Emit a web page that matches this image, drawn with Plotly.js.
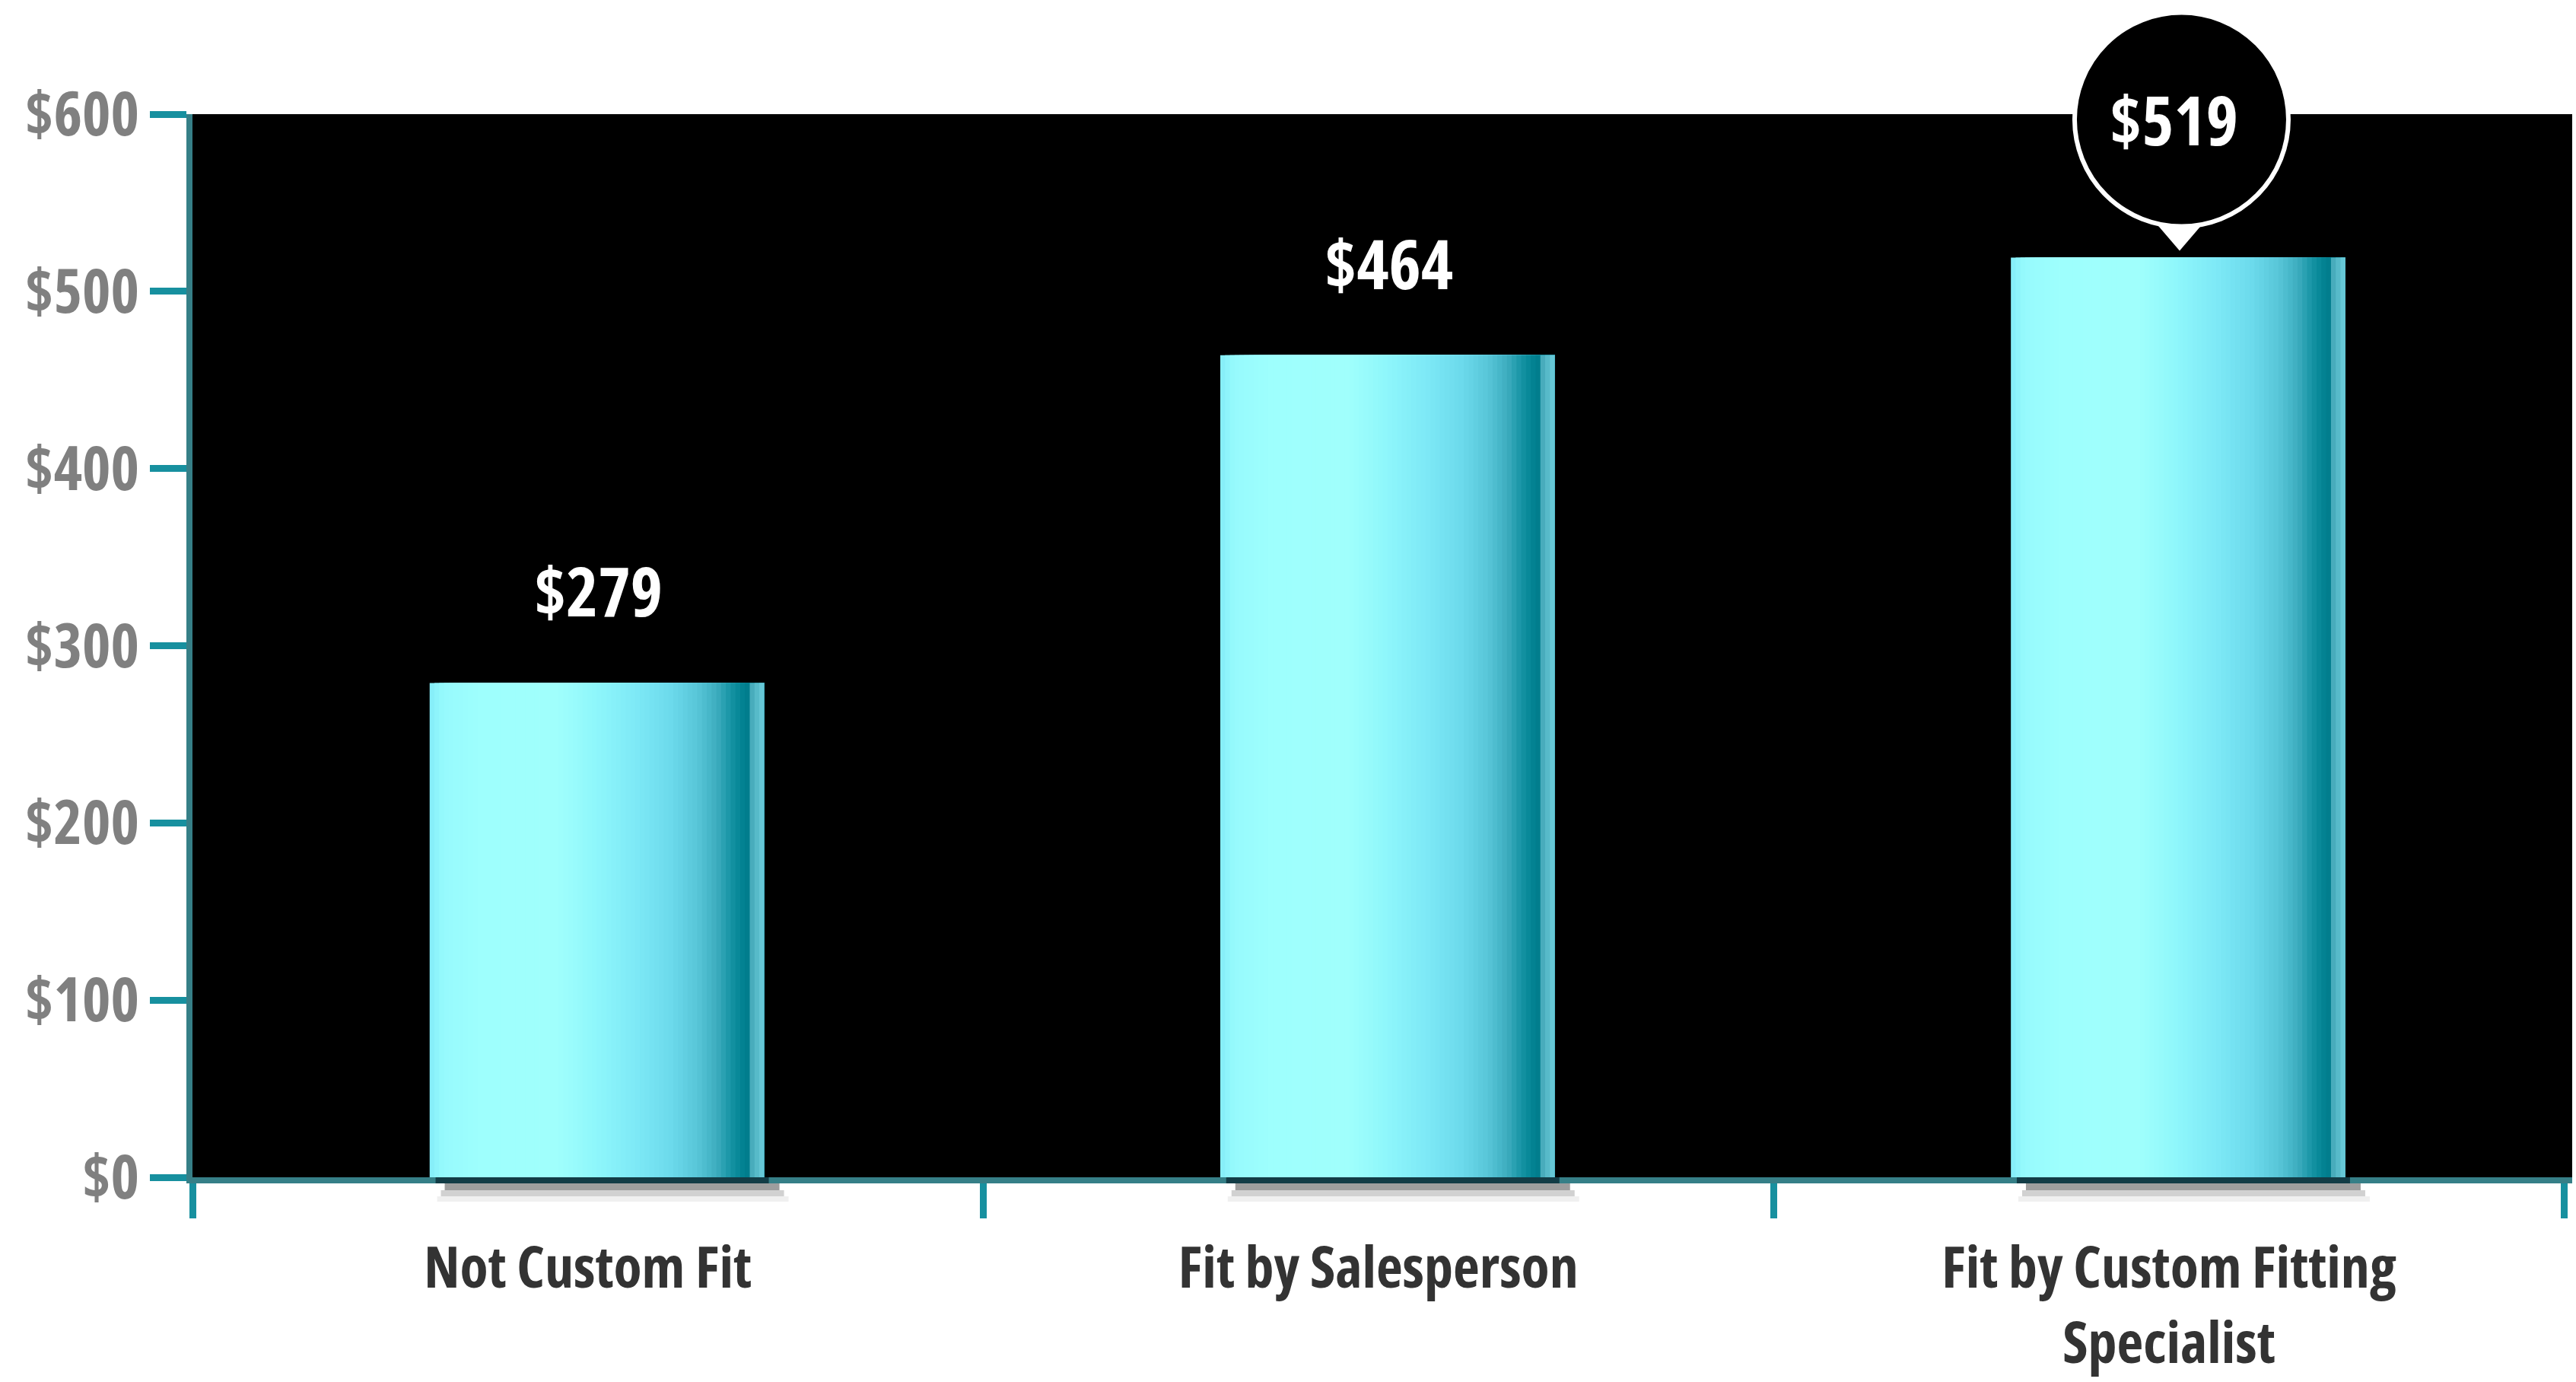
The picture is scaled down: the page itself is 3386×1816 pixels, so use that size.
<!DOCTYPE html>
<html><head><meta charset="utf-8">
<script src="https://cdn.plot.ly/plotly-3.0.1.min.js"></script>
<style>
html,body{margin:0;padding:0;background:#fff;}
#chart{width:3386px;height:1816px;}
.ytick text,.xtick text,.annotation-text{font-stretch:75% !important;}
</style>
</head><body><div id="chart"></div>
<script>
// ---- data ----
const categories = ['Not Custom Fit', 'Fit by Salesperson', 'Fit by Custom Fitting<br>Specialist'];
const values = [279, 464, 519];
const yTickValues = [0, 100, 200, 300, 400, 500, 600];
const yTickLabels = ['$0', '$100', '$200', '$300', '$400', '$500', '$600'];
const highlightIndex = 2;

// ---- styling ----
const FONT = "'Open Sans', sans-serif";
const yRange = [0, 600];
const barLeft = -0.200, barRight = 0.223;      // bar extent relative to category centre
const barCenter = (barLeft + barRight) / 2;
const stops = [
  [0.00, [132, 236, 248]], [0.04, [150, 250, 253]], [0.15, [158, 255, 253]],
  [0.38, [160, 255, 252]], [0.50, [142, 246, 251]], [0.62, [125, 232, 246]],
  [0.72, [108, 218, 236]], [0.80, [88, 198, 216]], [0.86, [60, 172, 190]],
  [0.90, [22, 148, 164]], [0.93, [4, 132, 148]], [0.958, [0, 122, 138]],
  [0.962, [70, 170, 186]], [1.00, [110, 206, 220]]
];
function colorAt(t) {
  for (let i = 1; i < stops.length; i++) {
    if (t <= stops[i][0]) {
      const a = stops[i - 1], b = stops[i];
      const f = (t - a[0]) / (b[0] - a[0]);
      const c = a[1].map((v, k) => Math.round(v + (b[1][k] - v) * f));
      return 'rgb(' + c.join(',') + ')';
    }
  }
  const c = stops[stops.length - 1][1];
  return 'rgb(' + c.join(',') + ')';
}

const N = 70;
const fullW = barRight - barLeft;
const traces = [];
for (let k = 0; k < N; k++) {
  const start = barLeft + fullW * k / N;
  traces.push({
    type: 'bar', x: categories, y: values,
    offset: start, width: barRight - start,
    marker: { color: colorAt((k + 0.5) / N), line: { width: 0 } },
    hoverinfo: 'skip', showlegend: false
  });
}

const annotations = categories.map((c, i) => ({
  x: c, y: values[i], xref: 'x', yref: 'y',
  text: '$' + values[i], showarrow: false,
  xshift: i === highlightIndex ? 6 : 14, yshift: i === highlightIndex ? 183 : 122,
  yanchor: 'middle', xanchor: 'center',
  font: { family: FONT, size: 90, color: '#ffffff', weight: 'bold' }
}));

const hiAnchorY = (values[highlightIndex] - yRange[0]) / (yRange[1] - yRange[0]);
const shapes = [];
// soft shadows under the bars (below the x axis)
categories.forEach((c, i) => {
  const base = { type: 'rect', xref: 'x', yref: 'paper', xsizemode: 'pixel', ysizemode: 'pixel',
    xanchor: i + barCenter, yanchor: 0, line: { width: 0 }, layer: 'above' };
  shapes.push(Object.assign({}, base, { x0: -212, x1: 226, y0: 0, y1: -8, fillcolor: 'rgba(0,25,35,0.65)' }));
  shapes.push(Object.assign({}, base, { x0: -200, x1: 240, y0: -8, y1: -17, fillcolor: 'rgba(0,0,0,0.38)' }));
  shapes.push(Object.assign({}, base, { x0: -205, x1: 246, y0: -17, y1: -25, fillcolor: 'rgba(0,0,0,0.18)' }));
  shapes.push(Object.assign({}, base, { x0: -210, x1: 252, y0: -25, y1: -32, fillcolor: 'rgba(0,0,0,0.06)' }));
});
// callout pointer + bubble for the highlighted bar
shapes.push({ type: 'path', xref: 'x', yref: 'paper', xsizemode: 'pixel', ysizemode: 'pixel',
  xanchor: highlightIndex + barCenter, yanchor: hiAnchorY,
  path: 'M -52,72 L 56,72 L 2,9 Z', fillcolor: '#ffffff', line: { width: 0 } });
shapes.push({ type: 'circle', xref: 'x', yref: 'paper', xsizemode: 'pixel', ysizemode: 'pixel',
  xanchor: highlightIndex + barCenter, yanchor: hiAnchorY,
  x0: -136, x1: 145, y0: 41, y1: 322, fillcolor: '#000000', line: { color: '#ffffff', width: 6 } });

const layout = {
  width: 3386, height: 1816,
  margin: { l: 253, r: 5, t: 150, b: 269, pad: 0 },
  paper_bgcolor: '#ffffff', plot_bgcolor: '#000000',
  barmode: 'overlay', showlegend: false,
  xaxis: {
    type: 'category', range: [-0.5, 2.51], tickson: 'boundaries',
    ticks: 'outside', ticklen: 46, tickwidth: 9, tickcolor: '#17909f',
    showline: true, linecolor: '#367f87', linewidth: 8,
    showgrid: false, zeroline: false, fixedrange: true, ticklabelstandoff: 46,
    tickfont: { family: FONT, size: 76, color: '#333333', weight: 'bold' }
  },
  yaxis: {
    range: yRange, tickvals: yTickValues, ticktext: yTickLabels,
    ticks: 'outside', ticklen: 48, tickwidth: 9, tickcolor: '#17909f',
    showline: true, linecolor: '#367f87', linewidth: 8,
    showgrid: false, zeroline: false, fixedrange: true, ticklabelstandoff: -2,
    tickfont: { family: FONT, size: 80, color: '#808080', weight: 'bold' }
  },
  annotations: annotations,
  shapes: shapes
};

Plotly.newPlot('chart', traces, layout, { staticPlot: true, displayModeBar: false });
</script>
</body></html>
